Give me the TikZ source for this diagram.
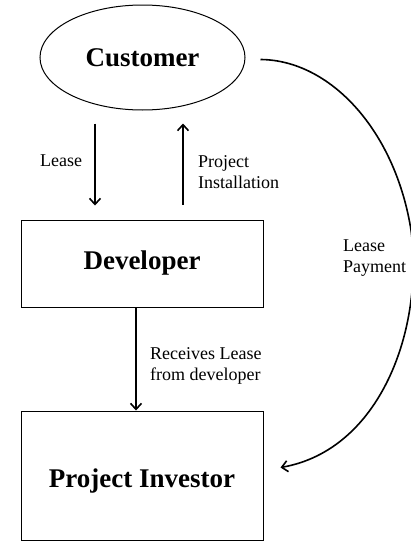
\documentclass[tikz,border=0pt]{standalone}
\usepackage{fontspec}
\setmainfont{Liberation Serif}
\usetikzlibrary{arrows.meta,shapes.geometric,calc}
\begin{document}
\begin{tikzpicture}[x=1pt,y=-1pt,
  box/.style={draw, line width=1pt, inner sep=0pt},
  title/.style={font=\fontsize{27}{32}\selectfont\bfseries},
  lbl/.style={font=\fontsize{18}{21}\selectfont, align=left, inner sep=0pt, anchor=north west},
  arr/.style={line width=1.6pt, -{Straight Barb[length=6pt,width=11pt,line width=1.6pt]}}]
\useasboundingbox (0,0) rectangle (411,541);
\node[box, ellipse, minimum width=205pt, minimum height=105pt, title] (cust) at (142.5,57.5) {Customer};
\node[box, rectangle, minimum width=242pt, minimum height=87pt, title] (dev) at (142,263.5) {Developer};
\node[box, rectangle, minimum width=242pt, minimum height=129pt, title, text height=29pt] (inv) at (142,475.5) {Project Investor};
\coordinate (xl) at (95,0);
\coordinate (xp) at (183,0);
\coordinate (xr) at (136,0);
\draw[arr, shorten <=13pt, shorten >=14pt] (cust.south -| xl) -- (dev.north -| xl);
\draw[arr, shorten <=15pt, shorten >=13pt] (dev.north -| xp) -- (cust.south -| xp);
\draw[arr] (dev.south -| xr) -- (inv.north -| xr);
\coordinate (cs) at ([xshift=15pt,yshift=-2pt]cust.east);
\coordinate (ie) at ([xshift=17pt,yshift=8pt]inv.east);
\draw[arr] (cs) .. controls (330,60) and (395,130) .. (411,230) .. controls (424,330) and (380,450) .. (ie);
\node[lbl] (llease) at (40,155) {Lease};
\node[lbl] (lpi) at (198,155) {Project\\Installation};
\node[lbl] (lpay) at (343,240) {Lease\\Payment};
\node[lbl] (lrec) at (150,347) {Receives Lease\\from developer};
\end{tikzpicture}
\end{document}
